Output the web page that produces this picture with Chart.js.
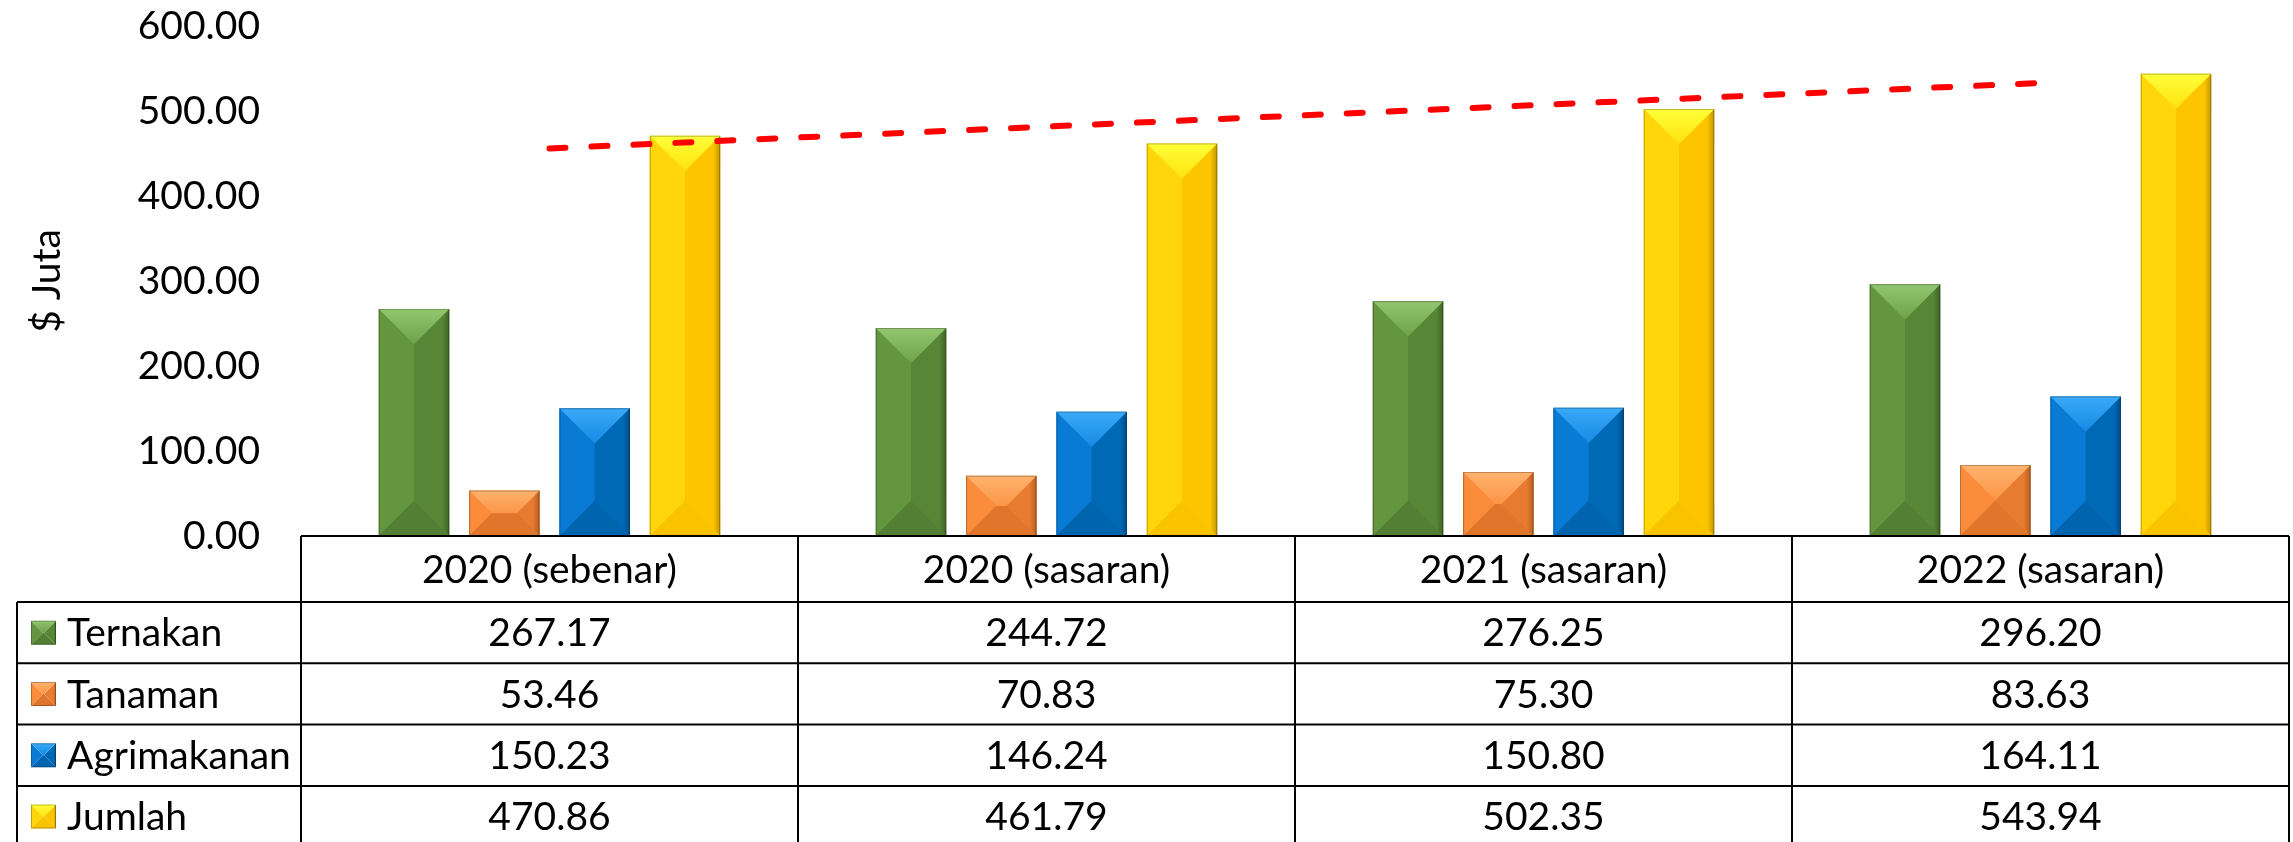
<!DOCTYPE html>
<html>
<head>
<meta charset="utf-8">
<script src="https://cdn.jsdelivr.net/npm/chart.js@4.4.1/dist/chart.umd.min.js"></script>
<style>
  html, body { margin: 0; padding: 0; background: #fff; }
  #wrap { width: 2293px; height: 842px; }
</style>
</head>
<body>
<div id="wrap"><canvas id="chart"></canvas></div>
<script>
// data
const categories = ['2020 (sebenar)', '2020 (sasaran)', '2021 (sasaran)', '2022 (sasaran)'];
const ternakan = [267.17, 244.72, 276.25, 296.20];
const tanaman = [53.46, 70.83, 75.30, 83.63];
const agrimakanan = [150.23, 146.24, 150.80, 164.11];
const jumlah = [470.86, 461.79, 502.35, 543.94];
// ends of the dashed trend line
const jumlahTrend = [456, null, null, 533];
const seriesNames = ['Ternakan', 'Tanaman', 'Agrimakanan', 'Jumlah'];
const yTicks = [0, 100, 200, 300, 400, 500, 600];

const FONT = { family: 'Lato', size: 39 };
const fontStr = '39px Lato';

// bevel shades for each series
const shades = [
  { base: '#5f8f3c', top: '#92c66f', topLow: '#6fa34a', left: '#64953f', right: '#578637', bottom: '#527f33', edge: '#3f6426' },
  { base: '#f08538', top: '#ffb26e', topLow: '#fb9646', left: '#fa8c3b', right: '#e77b30', bottom: '#e0762c', edge: '#b8601f' },
  { base: '#0673c8', top: '#3aaaf8', topLow: '#168ae4', left: '#0a7bd5', right: '#0069b6', bottom: '#0064ae', edge: '#004d86' },
  { base: '#ffcc00', top: '#ffff3a', topLow: '#ffe20e', left: '#ffd60a', right: '#fdc400', bottom: '#f9c300', edge: '#c29800' }
];

function poly(ctx, pts, fill) {
  ctx.beginPath();
  ctx.moveTo(pts[0][0], pts[0][1]);
  for (let i = 1; i < pts.length; i++) ctx.lineTo(pts[i][0], pts[i][1]);
  ctx.closePath();
  ctx.fillStyle = fill;
  ctx.fill();
}

function drawBevel(ctx, x, y, w, h, s) {
  if (h <= 0) return;
  const d = Math.min(w / 2, h / 2);
  const x1 = x + w, y1 = y + h;
  ctx.save();
  poly(ctx, [[x, y], [x + d, y + d], [x + d, y1 - d], [x, y1]], s.left);
  const g = ctx.createLinearGradient(x + w / 2, 0, x1, 0);
  g.addColorStop(0, s.right);
  g.addColorStop(0.8, s.right);
  g.addColorStop(1, s.edge);
  poly(ctx, [[x1, y], [x1 - d, y + d], [x1 - d, y1 - d], [x1, y1]], g);
  if (w - 2 * d > 0 && h - 2 * d > 0) {
    ctx.fillStyle = s.left;
    ctx.fillRect(x + d, y + d, w - 2 * d, h - 2 * d);
  }
  const tg = ctx.createLinearGradient(0, y, 0, y + d);
  tg.addColorStop(0, s.top);
  tg.addColorStop(1, s.topLow);
  poly(ctx, [[x, y], [x1, y], [x1 - d, y + d], [x + d, y + d]], tg);
  poly(ctx, [[x, y1], [x1, y1], [x1 - d, y1 - d], [x + d, y1 - d]], s.bottom);
  ctx.strokeStyle = 'rgba(0,0,0,0.25)';
  ctx.lineWidth = 1;
  ctx.strokeRect(x + 0.5, y + 0.5, w - 1, h - 1);
  ctx.restore();
}

const bevelPlugin = {
  id: 'bevel',
  afterDatasetDraw(chart, args) {
    const meta = args.meta;
    if (meta.type !== 'bar') return;
    const s = shades[chart.data.datasets[args.index].shadeIndex];
    meta.data.forEach(el => {
      const p = el.getProps(['x', 'y', 'base', 'width'], true);
      drawBevel(chart.ctx, p.x - p.width / 2, p.y, p.width, p.base - p.y, s);
    });
  }
};

// data table under the plot
const tablePlugin = {
  id: 'dataTable',
  afterDraw(chart) {
    const { ctx, chartArea } = chart;
    const xs = chart.scales.x;
    const rows = [ternakan, tanaman, agrimakanan, jumlah];
    const top = chartArea.bottom;
    const left = chartArea.left, right = chartArea.right;
    const colW = (right - left) / categories.length;
    const headH = 66, rowH = 61.3, keyLeft = 17;
    const rowsTop = top + headH;
    const bottom = rowsTop + rowH * rows.length;

    ctx.save();
    ctx.strokeStyle = '#000';
    ctx.lineWidth = 2;
    ctx.beginPath();
    ctx.moveTo(left, top); ctx.lineTo(right, top);
    for (let r = 0; r <= rows.length; r++) {
      const yy = rowsTop + r * rowH;
      ctx.moveTo(keyLeft, yy); ctx.lineTo(right, yy);
    }
    ctx.moveTo(keyLeft, rowsTop); ctx.lineTo(keyLeft, bottom);
    for (let c = 0; c <= categories.length; c++) {
      const xx = left + c * colW;
      ctx.moveTo(xx, top); ctx.lineTo(xx, bottom);
    }
    ctx.stroke();

    ctx.fillStyle = '#000';
    ctx.font = fontStr;
    ctx.textBaseline = 'middle';
    ctx.textAlign = 'center';
    categories.forEach((c, i) => ctx.fillText(c, xs.getPixelForValue(i), top + headH / 2 + 1));

    rows.forEach((vals, r) => {
      const cy = rowsTop + r * rowH + rowH / 2;
      drawBevel(ctx, 31, cy - 12, 25, 24, shades[r]);
      ctx.fillStyle = '#000';
      ctx.textAlign = 'left';
      ctx.fillText(seriesNames[r], 67, cy + 1);
      ctx.textAlign = 'center';
      vals.forEach((v, i) => ctx.fillText(v.toFixed(2), xs.getPixelForValue(i), cy + 1));
    });
    ctx.restore();
  }
};

const barSets = [ternakan, tanaman, agrimakanan, jumlah].map((vals, i) => ({
  type: 'bar',
  label: seriesNames[i],
  data: vals,
  shadeIndex: i,
  backgroundColor: shades[i].base,
  borderWidth: 0,
  categoryPercentage: 0.727,
  barPercentage: 0.78,
  order: 1
}));

new Chart(document.getElementById('chart'), {
  data: {
    labels: categories,
    datasets: [
      {
        type: 'line',
        label: 'Linear (Jumlah)',
        data: jumlahTrend,
        borderColor: '#ff0000',
        borderWidth: 6,
        borderDash: [16, 26],
        borderCapStyle: 'round',
        pointRadius: 0,
        spanGaps: true,
        fill: false,
        order: 0
      },
      ...barSets
    ]
  },
  options: {
    responsive: true,
    maintainAspectRatio: false,
    animation: false,
    devicePixelRatio: 1,
    layout: { padding: { top: 26, bottom: 306, left: 0, right: 4 } },
    plugins: {
      legend: { display: false },
      tooltip: { enabled: false }
    },
    scales: {
      x: { display: false },
      y: {
        min: 0,
        max: 600,
        afterBuildTicks: s => { s.ticks = yTicks.map(v => ({ value: v })); },
        afterFit: s => {
          s.width = 301;
          s.paddingTop = 0;
          s.paddingBottom = 0;
        },
        ticks: {
          padding: 41,
          color: '#000',
          font: FONT,
          callback: v => Number(v).toFixed(2)
        },
        grid: { display: false, drawTicks: false },
        border: { display: false },
        title: {
          display: true,
          text: '$ Juta',
          color: '#000',
          font: FONT,
          padding: { top: 24, bottom: 0 }
        }
      }
    }
  },
  plugins: [bevelPlugin, tablePlugin]
});
</script>
</body>
</html>
